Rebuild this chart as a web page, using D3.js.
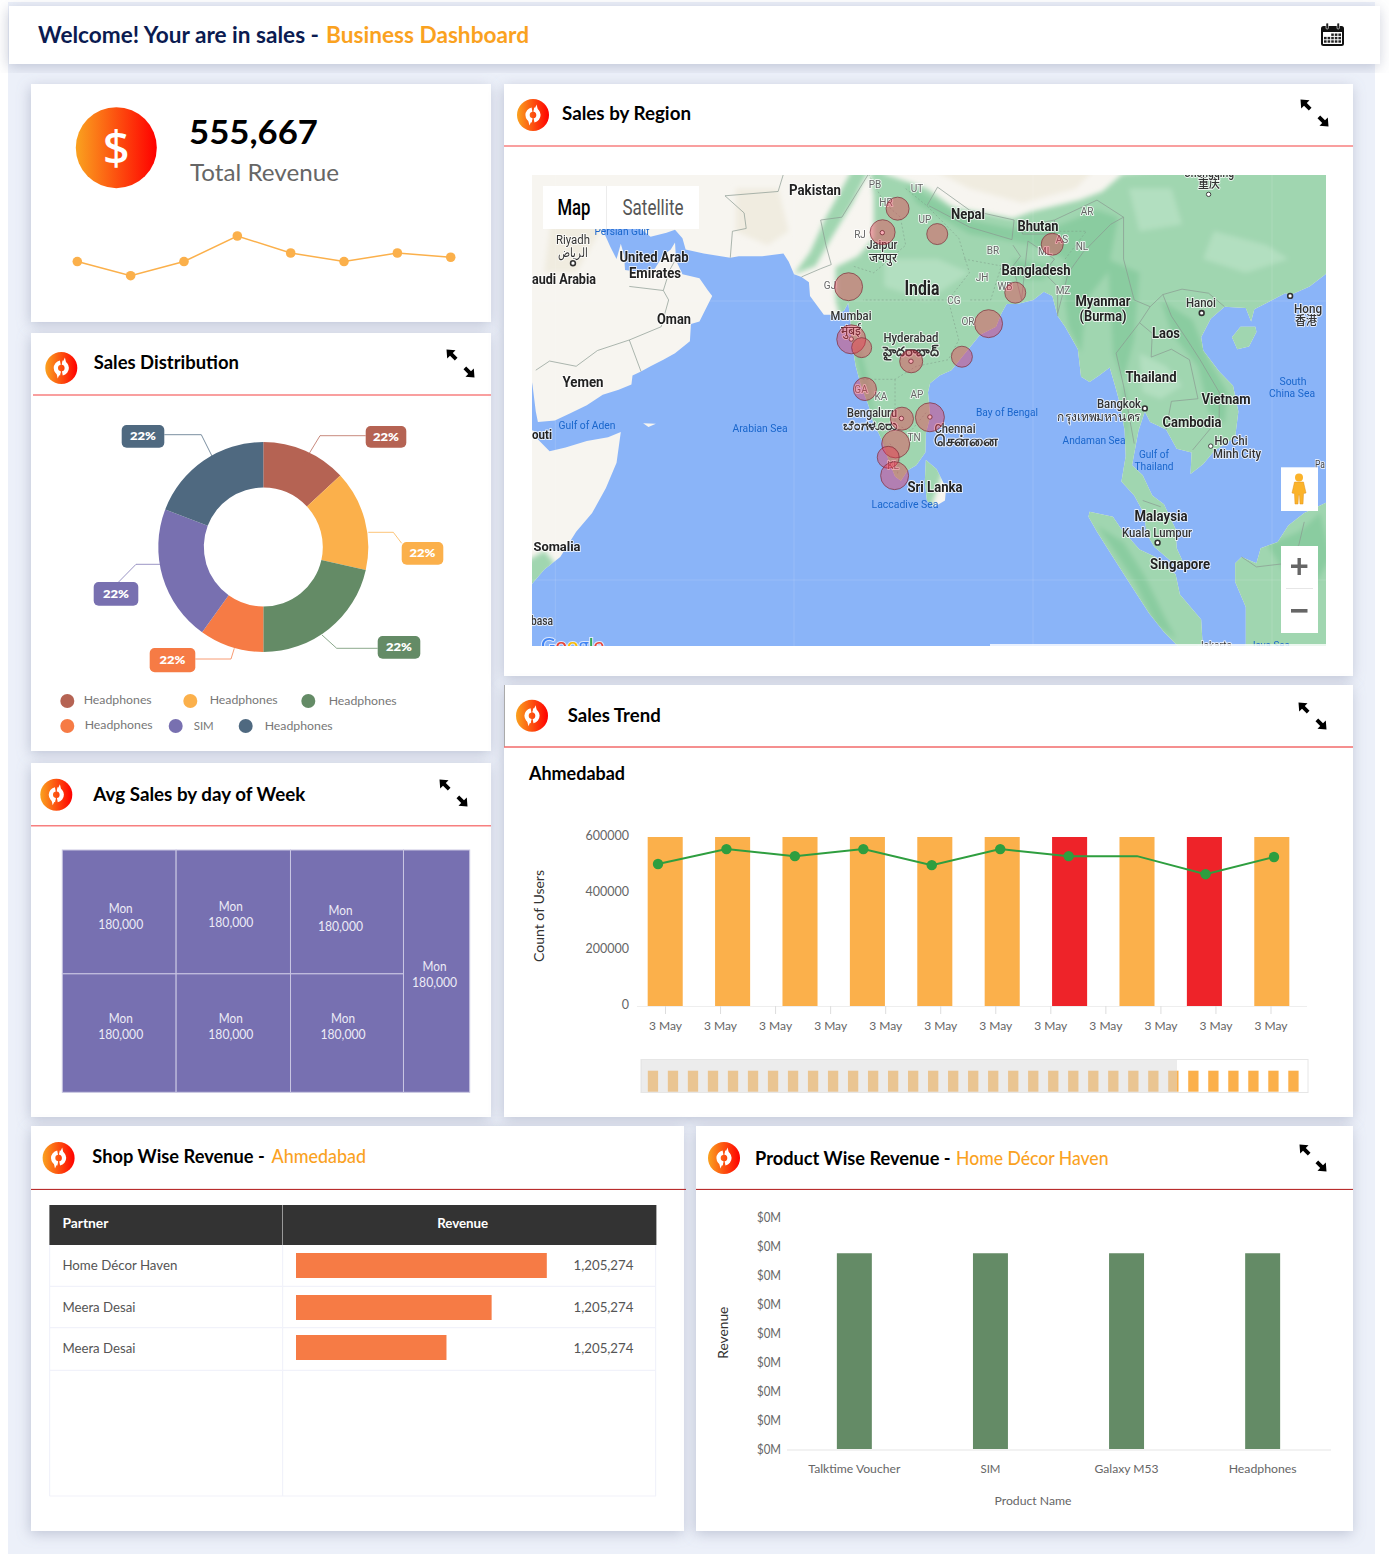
<!DOCTYPE html>
<html>
<head>
<meta charset="UTF-8">
<title>Business Dashboard</title>
<script src="https://cdn.jsdelivr.net/npm/d3@7"></script>
<style>
	html, body { margin: 0; padding: 0; background: #fff; }
	svg { display: block; font-family: Lato, "Open Sans", "Noto Sans", sans-serif; }
</style>
</head>
<body>
<div id="dash"></div>
<script type="text/javascript">

// ---- chart values ----
var sparkValues = [30, 20, 30, 48, 36, 30, 36, 33];

var donutColors = ["#b56353", "#fbb04b", "#648b66", "#f67b45", "#7870b0", "#4f6980"];
var donutValues = [13.1, 15.4, 21.5, 9.9, 20.9, 19.2];
var donutLabels = ["22%", "22%", "22%", "22%", "22%", "22%"];
var legendNames = ["Headphones", "Headphones", "Headphones", "Headphones", "SIM", "Headphones"];

var weekDays = ["Mon", "Mon", "Mon", "Mon", "Mon", "Mon", "Mon"];
var weekSales = ["180,000", "180,000", "180,000", "180,000", "180,000", "180,000", "180,000"];
var weekCellSizes = [14030, 14100, 13930, 13420, 13490, 13320, 15970];

var trendBars = [600000, 600000, 600000, 600000, 600000, 600000, 600000, 600000, 600000, 600000];
var trendBarColors = ["#fbb04b", "#fbb04b", "#fbb04b", "#fbb04b", "#fbb04b", "#fbb04b", "#ee2329", "#fbb04b", "#ee2329", "#fbb04b"];
var trendLine = [504000, 557000, 532000, 557000, 500000, 557000, 532000, 532000, 468000, 529000];
var trendDots = [1, 1, 1, 1, 1, 1, 1, 0, 1, 1];
var trendTicks = ["3 May", "3 May", "3 May", "3 May", "3 May", "3 May", "3 May", "3 May", "3 May", "3 May", "3 May", "3 May"];
var brushBars = [600000, 600000, 600000, 600000, 600000, 600000, 600000, 600000, 600000, 600000, 600000,
	600000, 600000, 600000, 600000, 600000, 600000, 600000, 600000, 600000, 600000, 600000,
	600000, 600000, 600000, 600000, 600000, 600000, 600000, 600000, 600000, 600000, 600000];

var shopNames = ["Home Décor Haven", "Meera Desai", "Meera Desai"];
var shopRevenue = ["1,205,274", "1,205,274", "1,205,274"];
var shopBarShare = [100, 78, 60];

var productNames = ["Talktime Voucher", "SIM", "Galaxy M53", "Headphones"];
var productRevenue = [135000, 135000, 135000, 135000];
var productTicks = [0, 20000, 40000, 60000, 80000, 100000, 120000, 140000, 160000];

// region bubbles: lon, lat, sales
var regionLon = [77.24, 75.83, 80.97, 91.79, 88.31, 72.63, 85.8, 83.29, 72.88, 73.86, 78.52, 74.17, 77.65, 80.28, 77.06, 76.36, 76.96];
var regionLat = [28.6, 26.93, 26.8, 26.07, 22.54, 22.98, 20.23, 17.73, 19.05, 18.42, 17.38, 15.25, 12.95, 13.06, 10.97, 9.92, 8.47];
var regionSales = [126000, 149000, 105000, 115000, 105000, 186000, 186000, 105000, 200000, 95000, 126000, 126000, 126000, 200000, 186000, 115000, 186000];

// ---- base map outlines (lon, lat) ----
var eurasia = [[42,35],[42.6,17],[42.9,15.5],[43.2,13.5],[43.4,12.7],[45,12.8],[46.5,13.4],[48,14],[49.5,14.8],[51,15.2],[52.2,15.6],[52.3,16.3],[53.1,16.6],[54,17],[55.2,17.5],[56.3,18],[57.7,18.9],[57.8,20.2],[58.6,20.4],[59.8,22.3],[59.4,22.7],[58.6,23.6],[57,23.9],[56.4,24.9],[56.3,26.2],[55.9,25.7],[55.2,25.3],[54.4,24.3],[52.6,24.1],[51.6,24.2],[51.5,25.3],[51.2,26.1],[50.8,25],[50.2,25.9],[49.5,27.1],[48.8,28],[48,29.3],[48.5,30],[49.5,30.1],[50.5,29.8],[50.9,28.9],[52.5,27.5],[54,26.6],[55.5,26.9],[56.3,27.1],[57,26.5],[57.3,25.7],[59,25.4],[61.5,25.1],[62.3,25.2],[64.5,25.2],[66.5,25.4],[67,24.8],[67.5,23.9],[68.2,23.7],[68.9,23.3],[69,22.3],[70.3,20.9],[71.3,20.9],[72.2,21.2],[72.6,21.8],[72.8,20.5],[72.9,19],[73.3,17],[73.8,15.5],[74.5,14],[74.9,12.8],[75.8,11.2],[76.3,9.9],[77,8.4],[77.55,8.07],[78.2,8.9],[79,9.3],[79.85,10.3],[79.9,11.8],[80.3,13.1],[80.1,15],[80.3,15.7],[81.2,16.3],[82.3,16.7],[83.3,17.7],[85,19.4],[86.5,20],[87,21],[87.5,21.7],[88.5,21.7],[90,22],[91,22.6],[91.8,22.3],[92.3,20.8],[93,20],[94.2,18.3],[94.5,16.2],[95.3,15.8],[96.2,16.3],[97.2,16.9],[97.7,15.5],[98.2,14],[98.6,12],[98.7,10],[98.3,8],[99.5,6.9],[100.4,5.5],[100.7,3.8],[101.4,2.8],[102.5,2],[103.5,1.3],[104.2,1.4],[103.5,2.7],[103.4,4.2],[102.3,6.2],[101.2,6.9],[100.3,8.5],[99.3,9.3],[99.9,12],[100.5,13.5],[101,12.7],[102.5,12.1],[103.5,10.6],[104.9,10.3],[104.8,8.6],[106,9.4],[107,10.4],[109,11.5],[109.3,13.5],[108.8,15.5],[107.5,16.6],[106,18.2],[105.8,19.2],[106.7,20.6],[108,21.5],[110,21.4],[110.5,20.4],[110.8,21.3],[112,21.8],[113.7,22.5],[114.3,22.4],[116,23],[117.5,23.9],[118,24.5],[121,28],[125,35]];
var africa = [[30,15],[43,12],[43.2,11.5],[44.5,10.4],[46,10.7],[48,11.2],[50,11.5],[51.2,11.9],[50.8,9.5],[49.8,7.5],[48.5,5.5],[47,4],[45.5,2],[44,1],[42.5,-0.5],[41.5,-1.7],[40,-3],[38,-6],[30,-6]];
var islands = [
	[[79.9,9.7],[80.9,9],[81.8,7.5],[81.7,6.5],[80.6,5.95],[80,6.5],[79.8,8]],
	[[95.3,5.6],[97.5,5.2],[98.3,4.2],[100,2.6],[101.5,2],[103.4,0.6],[103.8,-1],[105.8,-3],[106,-5.9],[104.5,-5.9],[102.3,-4],[100.9,-2.5],[99,0],[97.5,2],[96,4],[95.2,5.2]],
	[[109,1.5],[109.6,2],[111,1.5],[111.4,2.7],[113,3.2],[114,4.5],[115.5,5.5],[118,6.5],[120,5],[120,-7],[110,-7],[110,-2],[109,0]],
	[[108.7,19.2],[109.5,20],[110.9,20],[111,19.6],[110.3,18.5],[109.2,18.3]],
	[[53.3,12.6],[54.5,12.55],[53.8,12.3]]
];
var greenAsia = [[74.5,32],[76,31],[78,30.5],[80,30],[82.4,28.7],[88.1,27.9],[89.9,28.4],[94.4,29.2],[96.5,29.8],[98.4,31],[125,33],[125,-8],[90,-8],[90,10],[84,15],[80,5],[74,5],[72.3,19],[71.4,22],[71.4,24.4],[73.5,25.2],[75,26.5],[75,29.5]];
var greenIndus = [[67.5,23.9],[69,25.5],[70.5,28],[72,30],[73.5,32],[75,32],[73,29],[71,26.5],[69.5,24.5]];
var greenSomali = [[42,1.5],[44,2.5],[45,1.5],[42,-2]];
var darkPatches = [
	[[78,30.4],[80,29.5],[84,27.8],[88,27.2],[92,27.3],[96,28.5],[98,28],[97,24],[95,22],[94.5,18],[93.3,20],[92.8,23],[93,25],[90,26],[84,26.8],[79,29]],
	[[97,25],[100,24],[99.5,19],[98.5,16],[98.3,13],[99,11],[98.8,15],[97.5,18]],
	[[102,22],[105,20.5],[106.5,17.5],[108.3,15],[108,12.5],[106.5,13.5],[105.5,17],[103,19.5]],
	[[73.5,19],[74.5,16],[75,13.5],[76.5,10],[77.5,8.8],[76.6,9],[75.3,12],[74.2,14.5],[73.2,18]],
	[[96,4.5],[98.5,3.2],[100.5,0.5],[102.5,-3],[103.5,-4.6],[101.5,-3.4],[99.5,0],[97.5,2.6]],
	[[112,3],[115,4],[117,5.5],[118,2],[116,-1],[113.5,1]],
	[[88,25],[92,24.5],[91,23.5],[88.5,23.5]]
];
var lightPatches = [
	[[100,18],[102.5,17],[104,15.5],[102,14.5],[100.3,15]],
	[[107,27],[112,26],[114,25],[110,24],[106,25]],
	[[76,25],[81,25],[84,24],[80,22],[76,23]],
	[[99,30],[103,30],[104,27.5],[100,27]]
];
var desertPatches = [
	[[62,30],[66,30],[67,27],[65,26],[62,27]],
	[[80,31.5],[84,30],[89,29],[94,30],[96,31.5]],
	[[45,30],[50,28],[47,24],[44,24]]
];
var mapBorders = [
	[[43.2,16.7],[44.5,17.4],[47,17],[49,18.2],[52,19],[55,20],[55.7,22],[55.2,22.7],[52,23]],
	[[52,19],[53.1,16.6]], [[56.3,24.9],[55.8,24.2],[55.2,22.7]],
	[[61.5,25.1],[61.7,27],[63,27.2],[62.8,28.3],[61,29.5],[66,29.8],[66.5,31],[69,31.8]],
	[[68.2,23.7],[70,24.3],[71,24.6],[70.5,26],[70,27.8],[72,28],[74.5,31],[75,33]],
	[[80,28.8],[81,30.1],[84,28.5],[88.2,27.8],[88,26.4],[84,27.3],[80.2,28.8]],
	[[88.8,27.3],[92,27.8],[92,26.8],[89,26.8],[88.8,27.3]],
	[[88.1,26],[88.8,25.2],[88.1,24.5],[88.9,22],[89.5,26.3],[92,25],[91,24],[92.3,23],[92.3,20.8]],
	[[92.3,21],[93.3,24],[94.7,25.5],[97.3,27.5],[98.5,28],[98.5,25],[99.5,22],[101,21.5],[100,20.3],[97.8,18],[98.5,15.5],[99.5,11]],
	[[101,21.5],[102.2,22.4],[103,20.8],[104.5,19],[105.7,17.5],[107.5,15],[107.5,13],[106,11.5],[105,10.5]],
	[[100,20.3],[101.2,19.5],[101.1,17.7],[103,18.3],[104.7,17.5],[105.5,14.5],[103,14.3],[102.5,12.1]],
	[[102.2,22.4],[104,22.8],[106.5,22.5],[108,21.5]],
	[[100.3,6.5],[102,6]], [[109.6,2],[111,1.2],[114,1.5],[115,3],[115.5,4.8]],
	[[92,27.8],[96,29.2],[98.5,28]]
];
var stateBorders = [
	[[74.5,31],[76,29],[77.5,28],[78,26],[75,24],[73,24.5]], [[78,30],[80,28.8],[83,26.5],[84,24],[82,22],[80,22],[76,22],[74,22]],
	[[83.5,25],[87,24.5],[86,22],[84,22]], [[82,22],[83,19],[82,17.5],[79,17],[77,16],[74,16]], [[77,16],[77,12.5],[78.5,12],[80,13.5]],
	[[76.5,11],[77.5,10],[77.2,8.5]], [[93,25],[95,27],[92,27]]
];
var cityLon = [46.7, 105.85, 114.17, 100.5, 101.7, 106.5, 106.7, 75.8, 72.88, 78.5, 77.6, 80.28];
var cityLat = [24.7, 21.03, 22.3, 13.75, 3.14, 29.6, 10.8, 26.9, 19.07, 17.38, 12.97, 13.08];
var cityBlack = [1, 1, 1, 1, 1, 0, 0, 0, 0, 0, 0, 0];

// text, x, y, width (0 = natural), size, weight, colour
var mapLabels = [
	["Pakistan",815,190,52,14.5,700,"#222"],["Nepal",968,214,34,14.5,700,"#222"],["Bhutan",1038,226,41,14.5,700,"#222"],
	["Bangladesh",1036,270,69,14.5,700,"#222"],["India",922,288,35,20,700,"#222"],["Myanmar",1103,301,55,14.5,700,"#222"],
	["(Burma)",1103,316,47,14.5,700,"#222"],["Laos",1166,333,28,14.5,700,"#222"],["Thailand",1151,377,51,14.5,700,"#222"],
	["Vietnam",1226,399,49,14.5,700,"#222"],["Cambodia",1192,422,59,14.5,700,"#222"],["Malaysia",1161,516,53,14.5,700,"#222"],
	["Singapore",1180,564,60,14.5,700,"#222"],["Sri Lanka",935,487,55,14.5,700,"#222"],["Oman",674,319,34,14.5,700,"#222"],
	["Yemen",583,382,41,14.5,700,"#222"],["United Arab",654,257,69,14.5,700,"#222"],["Emirates",655,273,52,14.5,700,"#222"],
	["audi Arabia",564,279,64,14.5,700,"#222"],["Somalia",557,546,47,13.5,700,"#222"],["outi",542,434,20,13.5,700,"#222"],
	["Riyadh",573,239,34,12.5,400,"#333"],["الرياض",573,252,30,12.5,400,"#333"],["Jaipur",882,244,31,12.5,500,"#333"],
	["जयपुर",883,257,28,12.5,500,"#333"],["Mumbai",851,315,41,12.5,500,"#333"],["मुंबई",851,330,20,13,500,"#333"],
	["Hyderabad",911,337,55,12.5,500,"#333"],["హైదరాబాద్",911,351,56,13,700,"#333"],["Bengaluru",872,412,50,12.5,500,"#333"],
	["ಬೆಂಗಳೂರು",870,425,54,13,700,"#333"],["Chennai",955,428,41,12.5,500,"#333"],["சென்னை",966,441,65,15,700,"#333"],
	["Bangkok",1119,403,44,12.5,500,"#333"],["กรุงเทพมหานคร",1099,416,84,12.5,500,"#333"],["Kuala Lumpur",1157,532,70,12.5,500,"#333"],
	["Hanoi",1201,302,30,12.5,500,"#333"],["Hong",1308,308,28,12.5,500,"#333"],["香港",1306,321,22,12,500,"#333"],
	["Ho Chi",1231,440,33,12.5,500,"#333"],["Minh City",1237,453,48,12.5,500,"#333"],["重庆",1209,184,22,12,500,"#333"],
	["Chongqing",1209,173,50,12,500,"#333"],["Pa",1320,464,10,11,400,"#444"],["basa",542,620,22,12.5,500,"#333"],
	["PB",875,184,0,10,400,"#666"],["UT",917,188,0,10,400,"#666"],["HR",886,202,0,10,400,"#666"],["UP",925,219,0,10,400,"#666"],
	["RJ",860,234,0,10,400,"#666"],["GJ",830,285,0,10,400,"#666"],["BR",993,250,0,10,400,"#666"],["JH",982,277,0,10,400,"#666"],
	["WB",1005,286,0,10,400,"#666"],["CG",954,300,0,10,400,"#666"],["OR",968,321,0,10,400,"#666"],["AR",1087,211,0,10,400,"#666"],
	["AS",1062,239,0,10,400,"#666"],["ML",1045,251,0,10,400,"#666"],["NL",1082,246,0,10,400,"#666"],["MZ",1063,290,0,10,400,"#666"],
	["GA",861,389,0,10,400,"#666"],["KA",881,396,0,10,400,"#666"],["AP",917,394,0,10,400,"#666"],["TN",914,437,0,10,400,"#666"],
	["KL",893,465,0,10,400,"#666"],
	["Persian Gulf",622,231,55,11.5,400,"#1a66cc"],["Gulf of Aden",587,425,57,11.5,400,"#1a66cc"],["Arabian Sea",760,428,55,11.5,400,"#1a66cc"],
	["Bay of Bengal",1007,412,62,11.5,400,"#1a66cc"],["Andaman Sea",1094,440,63,11.5,400,"#1a66cc"],["Gulf of",1154,454,30,11.5,400,"#1a66cc"],
	["Thailand",1154,466,39,11.5,400,"#1a66cc"],["South",1293,381,27,11.5,400,"#1a66cc"],["China Sea",1292,393,46,11.5,400,"#1a66cc"],
	["Laccadive Sea",905,504,67,11.5,400,"#1a66cc"],["Java Sea",1270,645,40,11,400,"#1a66cc"],["Jakarta",1215,645,34,11,400,"#333"]
];
var googleLetters = ["G", "o", "o", "g", "l", "e"];
var googleColors = ["#4285f4", "#ea4335", "#fbbc05", "#4285f4", "#34a853", "#ea4335"];

// ---- page ----
var svg = d3.select("#dash").append("svg").attr("width", 1389).attr("height", 1557);
var defs = svg.append("defs");

var grad = defs.append("linearGradient").attr("id", "hot");
grad.append("stop").attr("offset", "0%").attr("stop-color", "#faa21f");
grad.append("stop").attr("offset", "100%").attr("stop-color", "#ff0000");

var shadow = defs.append("filter").attr("id", "shadow")
	.attr("x", "-10%").attr("y", "-10%").attr("width", "120%").attr("height", "125%");
shadow.append("feDropShadow").attr("dx", -1).attr("dy", 3).attr("stdDeviation", 7)
	.attr("flood-color", "#7f88a3").attr("flood-opacity", 0.42);

var soft = defs.append("filter").attr("id", "soft");
soft.append("feGaussianBlur").attr("stdDeviation", 0.4);
var mottle = defs.append("filter").attr("id", "mottle").attr("x", "-20%").attr("y", "-20%").attr("width", "140%").attr("height", "140%");
mottle.append("feGaussianBlur").attr("stdDeviation", 2.6);

function txt(g, x, y, s, o) {
	o = o || {};
	var t = g.append("text").attr("x", x).attr("y", y).text(s)
		.attr("font-size", o.size || 12)
		.attr("font-weight", o.weight || 400)
		.attr("fill", o.fill || "#000")
		.attr("text-anchor", o.anchor || "start");
	if (o.w) t.attr("textLength", o.w).attr("lengthAdjust", "spacingAndGlyphs");
	return t;
}

function card(x, y, w, h) {
	svg.append("rect").attr("x", x).attr("y", y).attr("width", w).attr("height", h)
		.attr("fill", "#fff").attr("filter", "url(#shadow)");
}

var swirl = d3.arc().innerRadius(3.3).outerRadius(7.6);
function badge(cx, cy) {
	var g = svg.append("g").attr("transform", "translate(" + cx + "," + cy + ")");
	g.append("circle").attr("r", 16).attr("fill", "url(#hot)");
	g.append("path").attr("fill", "#fff").attr("d", swirl({ startAngle: 0.15, endAngle: 2.95 }));
	g.append("path").attr("fill", "#fff").attr("d", swirl({ startAngle: 3.3, endAngle: 6.1 }));
	g.append("path").attr("fill", "#fff").attr("d", "M0.5,-3.8 L3.6,-10.5 L5,-4.5 Z");
	g.append("path").attr("fill", "#fff").attr("d", "M-0.5,3.8 L-3.6,10.5 L-5,4.5 Z");
}

function expand(x1, y1, x2, y2) {
	var arrow = "M-5.5,-5.5 L3.5,-4.8 L0.8,-2.1 L5.5,2.8 L2.8,5.5 L-2,0.8 L-4.8,3.5 Z";
	svg.append("path").attr("d", arrow).attr("transform", "translate(" + x1 + "," + y1 + ")");
	svg.append("path").attr("d", arrow).attr("transform", "translate(" + x2 + "," + y2 + ") rotate(180)");
}

function rule(x1, x2, y, c, sw) {
	svg.append("line").attr("x1", x1).attr("x2", x2).attr("y1", y).attr("y2", y)
		.attr("stroke", c).attr("stroke-width", sw);
}

svg.append("rect").attr("x", 8).attr("y", 2).attr("width", 1367).attr("height", 1552).attr("fill", "#ecf0f9");

// header
card(9, 6, 1371, 58);
txt(svg, 38, 42.5, "Welcome! Your are in sales -", { size: 22, weight: 700, fill: "#0b1b51", w: 281 });
txt(svg, 326, 42.5, "Business Dashboard", { size: 22, weight: 700, fill: "#faa21f", w: 203 });

var cal = svg.append("g").attr("transform", "translate(1321,23)");
cal.append("rect").attr("y", 3).attr("width", 23).attr("height", 20).attr("rx", 2.5).attr("fill", "#111");
cal.append("rect").attr("x", 2).attr("y", 9).attr("width", 19).attr("height", 12).attr("fill", "#fff");
[5, 16].forEach(function (cx) {
	cal.append("rect").attr("x", cx).attr("y", 0).attr("width", 2.4).attr("height", 6).attr("rx", 1).attr("fill", "#111").attr("stroke", "#fff").attr("stroke-width", 0.6);
});
d3.range(3).forEach(function (r) {
	d3.range(5).forEach(function (c) {
		if (r == 0 && c < 2) return;
		cal.append("rect").attr("x", 3 + c * 3.6).attr("y", 10.5 + r * 3.4).attr("width", 2.6).attr("height", 2.4).attr("fill", "#222");
	});
});

// ---- total revenue ----
card(31, 84, 460, 238);
svg.append("circle").attr("cx", 116.3).attr("cy", 147.7).attr("r", 40.5).attr("fill", "url(#hot)");
txt(svg, 116.3, 164.5, "$", { size: 47, weight: 500, fill: "#fff", anchor: "middle" }).style("font-family", "'Noto Sans'");
txt(svg, 189, 144, "555,667", { size: 33, weight: 700, w: 129 });
txt(svg, 190, 181, "Total Revenue", { size: 24, fill: "#666", w: 149 });

var sparkX = d3.scalePoint().domain(d3.range(sparkValues.length)).range([77.3, 450.7]);
var sparkY = d3.scaleLinear().domain([20, 48]).range([275.7, 236]);
svg.append("path").datum(sparkValues)
	.attr("fill", "none").attr("stroke", "#fbb04b").attr("stroke-width", 1.5)
	.attr("d", d3.line().x(function (d, i) { return sparkX(i); }).y(function (d) { return sparkY(d); }));
svg.selectAll(".spark").data(sparkValues).enter().append("circle").attr("class", "spark")
	.attr("cx", function (d, i) { return sparkX(i); }).attr("cy", function (d) { return sparkY(d); })
	.attr("r", 4.8).attr("fill", "#fbb04b");

// ---- sales distribution ----
card(31, 333, 460, 418);
badge(61.3, 368);
txt(svg, 93.7, 369, "Sales Distribution", { size: 18, weight: 700, w: 145.3 });
expand(452, 355, 469, 372);
rule(33, 491, 395, "#f77f7f", 1.6);

var pie = d3.pie().sort(null)(donutValues);
var donutArc = d3.arc().innerRadius(59.5).outerRadius(105);
var donut = svg.append("g").attr("transform", "translate(263.3,547)");
donut.selectAll("path").data(pie).enter().append("path")
	.attr("d", donutArc).attr("fill", function (d, i) { return donutColors[i]; });

// label boxes and their leader lines, same order as the slices
var donutBoxes = [[365.7, 426, 40.6, 21.7], [401.7, 542, 41.6, 22.7], [377.7, 636, 42.6, 22.7], [149.7, 648, 45.6, 24.3], [93.7, 582, 44.6, 23.7], [121.7, 425, 42.6, 22.7]];
var donutLeads = [
	[[302, 465.3], [320, 435.7], [365.7, 435.7]],
	[[368.3, 532.3], [393.3, 532.3], [401.7, 543.3]],
	[[322, 635], [336.7, 648.3], [377.7, 648.3]],
	[[234.3, 648.3], [231, 659], [195.3, 659]],
	[[160, 564.3], [136, 564.3], [118.3, 582.3]],
	[[212.3, 456.7], [201.3, 434.7], [164.3, 434.7]]
];
var leadLine = d3.line();
donutLeads.forEach(function (l, i) {
	svg.append("path").attr("d", leadLine(l)).attr("fill", "none")
		.attr("stroke", donutColors[i]).attr("stroke-opacity", 0.75).attr("stroke-width", 1);
});
donutBoxes.forEach(function (b, i) {
	svg.append("rect").attr("x", b[0]).attr("y", b[1]).attr("width", b[2]).attr("height", b[3]).attr("rx", 5).attr("fill", donutColors[i]);
	txt(svg, b[0] + b[2] / 2, b[1] + b[3] / 2 + 4, donutLabels[i], { size: 12, weight: 800, fill: "#fff", anchor: "middle", w: 26 });
});

var legendPos = [[67.3, 701, 83.7], [190.3, 701, 209.7], [308.3, 701, 328.7], [67.3, 726, 84.7], [175.7, 726, 193.7], [245.7, 726, 264.7]];
legendNames.forEach(function (n, i) {
	var p = legendPos[i];
	svg.append("circle").attr("cx", p[0]).attr("cy", p[1]).attr("r", 7).attr("fill", donutColors[i]);
	txt(svg, p[2], p[1] + 3 + (i == 2 || i > 3 ? 1 : 0), n, { size: 12, fill: "#777", w: n == "SIM" ? 20 : 68 });
});

// ---- avg sales by day ----
card(31, 763, 460, 354);
badge(56.3, 794.7);
txt(svg, 93.3, 800.5, "Avg Sales by day of Week", { size: 18, weight: 700, w: 212 });
expand(445, 785, 462, 801);
rule(31, 491, 825.7, "#f77f7f", 1.6);

var weekTree = { children: [
	{ children: [
		{ children: [{ i: 0 }, { i: 1 }, { i: 2 }] },
		{ children: [{ i: 3 }, { i: 4 }, { i: 5 }] }
	] },
	{ i: 6 }
] };
var weekRoot = d3.hierarchy(weekTree).sum(function (d) { return d.i === undefined ? 0 : weekCellSizes[d.i]; });
d3.treemap().tile(d3.treemapSliceDice).size([407.4, 242.3])(weekRoot);
var weekG = svg.append("g").attr("transform", "translate(62.3,850)");
var weekLabelDx = [1.5, -2.5, -6.5, 1.5, -2.5, -4, -2];
var weekLabelY = [63, 61, 65, 173, 173, 173, 121];
weekRoot.leaves().forEach(function (n) {
	var i = n.data.i;
	weekG.append("rect").attr("x", n.x0).attr("y", n.y0).attr("width", n.x1 - n.x0).attr("height", n.y1 - n.y0)
		.attr("fill", "#7770b1").attr("stroke", "#c9c6e2").attr("stroke-width", 1);
	var cx = (n.x0 + n.x1) / 2 + weekLabelDx[i];
	txt(weekG, cx, weekLabelY[i], weekDays[i], { size: 12.5, fill: "#ecebf6", anchor: "middle", w: 24 });
	txt(weekG, cx, weekLabelY[i] + 16, weekSales[i], { size: 12.5, fill: "#ecebf6", anchor: "middle", w: 45 });
});

// ---- sales by region ----
card(504, 84, 849, 592);
badge(533, 115);
txt(svg, 562, 120, "Sales by Region", { size: 18, weight: 700, w: 129 });
expand(1306, 105, 1323, 121);
rule(504, 1353, 146, "#f77f7f", 1.6);

defs.append("clipPath").attr("id", "mapClip").append("rect").attr("x", 532).attr("y", 175).attr("width", 794).attr("height", 471);

var merc = d3.geoMercator().scale(609).translate([76.6, 0]);
function project(c) { var p = merc(c); return [p[0], 581.9 + 1.1757 * p[1]]; }
var geoPath = d3.geoPath(d3.geoTransform({
	point: function (x, y) { var p = project([x, y]); this.stream.point(p[0], p[1]); }
}));
function ringPath(r) { return geoPath({ type: "Polygon", coordinates: [r.concat([r[0]])] }); }
function linePath(r) { return geoPath({ type: "LineString", coordinates: r }); }

var landRings = [eurasia, africa].concat(islands);
var landD = landRings.map(ringPath).join(" ");
defs.append("clipPath").attr("id", "landClip").append("path").attr("d", landD);

var map = svg.append("g").attr("clip-path", "url(#mapClip)");
var mapBase = map.append("g").attr("filter", "url(#soft)");
mapBase.append("rect").attr("x", 532).attr("y", 175).attr("width", 794).attr("height", 471).attr("fill", "#8ab4f8");
mapBase.append("path").attr("d", landD).attr("fill", "#f7f5f0");
var veg = mapBase.append("g").attr("clip-path", "url(#landClip)").append("g").attr("filter", "url(#mottle)");
desertPatches.forEach(function (r) { veg.append("path").attr("d", ringPath(r)).attr("fill", "#f0ece0"); });
[greenAsia, greenIndus, greenSomali].forEach(function (r) { veg.append("path").attr("d", ringPath(r)).attr("fill", "#a0d6b0"); });
darkPatches.forEach(function (r) { veg.append("path").attr("d", ringPath(r)).attr("fill", "#8acca0"); });
lightPatches.forEach(function (r) { veg.append("path").attr("d", ringPath(r)).attr("fill", "#b2dfc0"); });

// tile seams show through faintly
[555.3, 794, 1033, 1272].forEach(function (x) {
	mapBase.append("line").attr("x1", x).attr("x2", x).attr("y1", 175).attr("y2", 646).attr("stroke", "#fff").attr("stroke-opacity", 0.13);
});
[301, 580].forEach(function (y) {
	mapBase.append("line").attr("x1", 532).attr("x2", 1326).attr("y1", y).attr("y2", y).attr("stroke", "#fff").attr("stroke-opacity", 0.13);
});

stateBorders.forEach(function (l) {
	mapBase.append("path").attr("d", linePath(l)).attr("fill", "none").attr("stroke", "#7c9886").attr("stroke-width", 0.5).attr("stroke-dasharray", "2,2");
});
mapBorders.forEach(function (l) {
	mapBase.append("path").attr("d", linePath(l)).attr("fill", "none").attr("stroke", "#8a9a90").attr("stroke-width", 0.7);
});

cityLon.forEach(function (lon, i) {
	var p = project([lon, cityLat[i]]);
	mapBase.append("circle").attr("cx", p[0]).attr("cy", p[1]).attr("r", cityBlack[i] ? 2.4 : 2.2)
		.attr("fill", "#fff").attr("stroke", "#333").attr("stroke-width", cityBlack[i] ? 1.6 : 0.9);
});

var labelG = map.append("g").attr("filter", "url(#soft)");
mapLabels.forEach(function (l) {
	var t = txt(labelG, l[1], l[2] + l[4] * 0.36, l[0], { size: l[4], weight: l[5], fill: l[6], anchor: "middle", w: l[3] })
		.style("font-family", "Roboto, 'Noto Sans', 'Noto Sans CJK SC', sans-serif");
	// sea names sit on the water with no halo
	if (l[6] != "#1a66cc") {
		t.attr("stroke", "#fff").attr("stroke-opacity", 0.75).attr("stroke-width", 2)
			.attr("paint-order", "stroke").attr("stroke-linejoin", "round");
	}
});

var googleX = 541;
googleLetters.forEach(function (c, i) {
	var t = txt(labelG, googleX, 652, c, { size: 20, weight: 500, fill: googleColors[i] })
		.attr("stroke", "#fff").attr("stroke-opacity", 0.7).attr("stroke-width", 2).attr("paint-order", "stroke");
	googleX += t.node().getComputedTextLength();
});

var bubbleR = d3.scaleSqrt().domain([0, 200000]).range([0, 14.5]);
map.selectAll(".region").data(regionSales).enter().append("circle").attr("class", "region")
	.attr("cx", function (d, i) { return project([regionLon[i], regionLat[i]])[0]; })
	.attr("cy", function (d, i) { return project([regionLon[i], regionLat[i]])[1]; })
	.attr("r", function (d) { return bubbleR(d); })
	.attr("fill", "#ee3049").attr("fill-opacity", 0.4)
	.attr("stroke", "#7c2f3a").attr("stroke-opacity", 0.7).attr("stroke-width", 1);

map.append("rect").attr("x", 990).attr("y", 644).attr("width", 336).attr("height", 2).attr("fill", "#fff").attr("fill-opacity", 0.8);

// map controls
var ctrl = svg.append("g");
ctrl.append("rect").attr("x", 543).attr("y", 186).attr("width", 156).attr("height", 43).attr("fill", "#fff");
ctrl.append("line").attr("x1", 606.5).attr("x2", 606.5).attr("y1", 186).attr("y2", 229).attr("stroke", "#ececec");
txt(ctrl, 574, 214.5, "Map", { size: 22, weight: 500, anchor: "middle", w: 33 }).style("font-family", "Roboto");
txt(ctrl, 653, 214.5, "Satellite", { size: 22, fill: "#565656", anchor: "middle", w: 61 }).style("font-family", "Roboto");

ctrl.append("rect").attr("x", 1281).attr("y", 467.3).attr("width", 37).attr("height", 43.7).attr("fill", "#fff");
ctrl.append("circle").attr("cx", 1299).attr("cy", 477.5).attr("r", 4).attr("fill", "#fbb32a");
ctrl.append("path").attr("fill", "#fbb32a").attr("stroke", "#e0901a").attr("stroke-width", 0.5)
	.attr("d", "M1294.5,482 L1303.5,482 L1306,493 L1303.5,493.5 L1303,504 L1300,504 L1299.5,495 L1298.5,495 L1298,504 L1295,504 L1294.5,493.5 L1292,493 Z");

ctrl.append("rect").attr("x", 1281).attr("y", 546).attr("width", 37).attr("height", 87).attr("fill", "#fff");
ctrl.append("line").attr("x1", 1286).attr("x2", 1313).attr("y1", 588.5).attr("y2", 588.5).attr("stroke", "#e6e6e6");
ctrl.append("path").attr("fill", "#666").attr("d", "M1297.5,558 h3.4 v6.5 h6.5 v3.4 h-6.5 v7 h-3.4 v-7 h-6.5 v-3.4 h6.5 Z");
ctrl.append("rect").attr("x", 1291).attr("y", 609).attr("width", 16.5).attr("height", 3.6).attr("fill", "#666");

// ---- sales trend ----
card(504, 685, 849, 432);
svg.append("line").attr("x1", 504.5).attr("x2", 504.5).attr("y1", 685).attr("y2", 747).attr("stroke", "#aaa");
badge(532, 715.7);
txt(svg, 567.7, 721.5, "Sales Trend", { size: 18, weight: 700, w: 93 });
expand(1304, 708, 1321, 724);
rule(504, 1353, 747, "#f26a6a", 1.6);
txt(svg, 529, 780, "Ahmedabad", { size: 19, weight: 700, w: 96 });

var trendY = d3.scaleLinear().domain([0, 600000]).range([1006, 837]);
var trendBand = d3.scaleBand().domain(d3.range(trendBars.length)).range([631.5, 1305.5]).paddingInner(0.48).paddingOuter(0.24);
var trendLineX = d3.scalePoint().domain(d3.range(trendLine.length)).range([658, 1274]);
var trendTickX = d3.scalePoint().domain(d3.range(trendTicks.length)).range([665, 1270.5]);

svg.selectAll(".tbar").data(trendBars).enter().append("rect").attr("class", "tbar")
	.attr("x", function (d, i) { return trendBand(i); }).attr("width", trendBand.bandwidth())
	.attr("y", function (d) { return trendY(d); }).attr("height", function (d) { return 1006 - trendY(d); })
	.attr("fill", function (d, i) { return trendBarColors[i]; });

var xAxisG = svg.append("g").attr("transform", "translate(0,1006)")
	.call(d3.axisBottom(trendTickX).tickSize(8).tickPadding(7).tickSizeOuter(0).tickFormat(function (i) { return trendTicks[i]; }));
xAxisG.select(".domain").attr("d", "M637,0.5H1307").attr("stroke", "#eee");
xAxisG.selectAll("line").attr("stroke", "#ddd");
xAxisG.selectAll("text").attr("fill", "#666").attr("font-size", 12).attr("font-family", "Lato")
	.attr("textLength", 33).attr("lengthAdjust", "spacingAndGlyphs");

var yAxisG = svg.append("g").attr("transform", "translate(629,0)")
	.call(d3.axisLeft(trendY).tickValues([0, 200000, 400000, 600000]).tickSize(0).tickPadding(0).tickFormat(d3.format("d")));
yAxisG.select(".domain").remove();
yAxisG.selectAll("text").attr("fill", "#666").attr("font-size", 12.5).attr("font-family", "Lato").attr("dy", "0.2em");

txt(svg, 0, 0, "Count of Users", { size: 13, fill: "#333", anchor: "middle", w: 92 }).attr("transform", "translate(544,916) rotate(-90)");

svg.append("path").datum(trendLine).attr("fill", "none").attr("stroke", "#2e9e3f").attr("stroke-width", 2)
	.attr("d", d3.line().x(function (d, i) { return trendLineX(i); }).y(function (d) { return trendY(d); }));
trendLine.forEach(function (d, i) {
	if (!trendDots[i]) return;
	svg.append("circle").attr("cx", trendLineX(i)).attr("cy", trendY(d)).attr("r", 5.2).attr("fill", "#2e9e3f");
});

// zoom strip under the trend chart
var brushX = d3.scaleBand().domain(d3.range(brushBars.length)).range([643, 1303.4]).paddingInner(0.485).paddingOuter(0.24);
var brushY = d3.scaleLinear().domain([0, 600000]).range([1091.7, 1070.7]);
svg.append("rect").attr("x", 641).attr("y", 1059.5).attr("width", 667).attr("height", 33).attr("fill", "#fff").attr("stroke", "#e6e6e6");
svg.selectAll(".bbar").data(brushBars).enter().append("rect").attr("class", "bbar")
	.attr("x", function (d, i) { return brushX(i); }).attr("width", brushX.bandwidth())
	.attr("y", function (d) { return brushY(d); }).attr("height", function (d) { return 1091.7 - brushY(d); })
	.attr("fill", "#fbb04b");
svg.append("rect").attr("x", 641).attr("y", 1060).attr("width", 536).attr("height", 32).attr("fill", "#d9d9d9").attr("fill-opacity", 0.5);

// ---- shop wise revenue ----
card(31, 1126, 653, 405);
badge(58.6, 1158);
txt(svg, 92.3, 1163.3, "Shop Wise Revenue -", { size: 18, weight: 700, w: 172.5 });
txt(svg, 271.6, 1163.3, "Ahmedabad", { size: 18.5, weight: 500, fill: "#faa21f", w: 94.4 });
rule(31, 686, 1189.4, "#b01515", 1);

svg.append("rect").attr("x", 49.4).attr("y", 1205).attr("width", 607).attr("height", 40).attr("fill", "#333");
svg.append("line").attr("x1", 282.5).attr("x2", 282.5).attr("y1", 1205).attr("y2", 1245).attr("stroke", "#999");
txt(svg, 62.4, 1228, "Partner", { size: 14, weight: 700, fill: "#fff", w: 46 });
txt(svg, 462.7, 1228, "Revenue", { size: 14, weight: 700, fill: "#fff", anchor: "middle", w: 51 });

var tableLine = "#f1f2fa";
[1286.3, 1327.7, 1370.3, 1496].forEach(function (y) { rule(49.5, 656, y, tableLine, 1.2); });
[49.6, 282.6, 655.6].forEach(function (x) {
	svg.append("line").attr("x1", x).attr("x2", x).attr("y1", 1245).attr("y2", 1496).attr("stroke", tableLine).attr("stroke-width", 1.2);
});

var shopX = d3.scaleLinear().domain([0, 100]).range([296, 546.8]);
var shopRowY = d3.scaleOrdinal().domain(d3.range(3)).range([1253, 1295, 1335]);
var shopTextY = [1270, 1312.3, 1352.5];
shopNames.forEach(function (n, i) {
	svg.append("rect").attr("x", shopX(0)).attr("y", shopRowY(i)).attr("width", shopX(shopBarShare[i]) - shopX(0)).attr("height", 25).attr("fill", "#f67b45");
	txt(svg, 62.4, shopTextY[i], n, { size: 14, fill: "#555", w: i == 0 ? 115 : 73 });
	txt(svg, 633.5, shopTextY[i], shopRevenue[i], { size: 14, fill: "#555", anchor: "end", w: 60 });
});

// ---- product wise revenue ----
card(696, 1126, 657, 405);
badge(724, 1158);
txt(svg, 755, 1165.3, "Product Wise Revenue -", { size: 18, weight: 700, w: 195.6 });
txt(svg, 956, 1165.3, "Home Décor Haven", { size: 18.5, weight: 500, fill: "#faa21f", w: 152.5 });
expand(1305, 1150, 1321, 1166);
rule(696, 1353, 1189.4, "#b01515", 1);

var prodX = d3.scaleBand().domain(productNames).range([786.5, 1330.5]).paddingInner(0.743).paddingOuter(0.37);
var prodY = d3.scaleLinear().domain([0, 160000]).range([1449, 1217]);
svg.selectAll(".pbar").data(productRevenue).enter().append("rect").attr("class", "pbar")
	.attr("x", function (d, i) { return prodX(productNames[i]); }).attr("width", prodX.bandwidth())
	.attr("y", function (d) { return prodY(d); }).attr("height", function (d) { return 1449 - prodY(d); })
	.attr("fill", "#648b66");

var prodXAxis = svg.append("g").attr("transform", "translate(0,1449.5)")
	.call(d3.axisBottom(prodX).tickSize(0).tickPadding(15));
prodXAxis.select(".domain").attr("stroke", "#eee").attr("stroke-width", 1.5);
prodXAxis.selectAll("text").attr("fill", "#666").attr("font-size", 12).attr("font-family", "Lato")
	.attr("textLength", function (d) { return { "Talktime Voucher": 92, "SIM": 20, "Galaxy M53": 64, "Headphones": 68 }[d]; })
	.attr("lengthAdjust", "spacingAndGlyphs");

var prodYAxis = svg.append("g").attr("transform", "translate(781,0)")
	.call(d3.axisLeft(prodY).tickValues(productTicks).tickSize(0).tickPadding(0)
		.tickFormat(function (v) { return "$" + (v / 1e6).toFixed(0) + "M"; }));
prodYAxis.select(".domain").remove();
prodYAxis.selectAll("text").attr("fill", "#666").attr("font-size", 13).attr("font-family", "Lato")
	.attr("textLength", 24).attr("lengthAdjust", "spacingAndGlyphs");

txt(svg, 0, 0, "Revenue", { size: 13, fill: "#333", anchor: "middle", w: 52 }).attr("transform", "translate(728,1332.7) rotate(-90)");
txt(svg, 1033, 1505, "Product Name", { size: 12, fill: "#666", anchor: "middle", w: 77 });

</script>
</body>
</html>
